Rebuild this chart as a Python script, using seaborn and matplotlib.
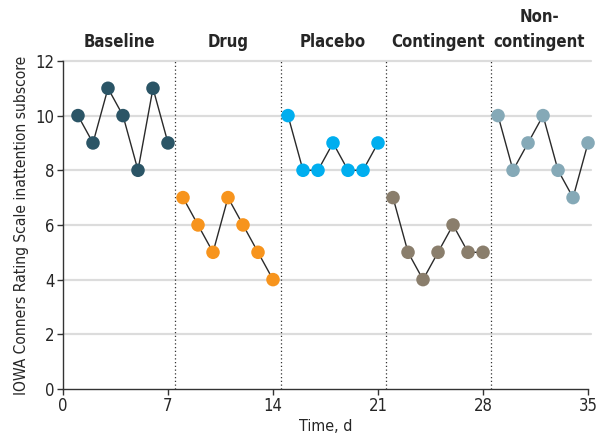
import matplotlib
matplotlib.use("Agg")
import matplotlib.pyplot as plt
import seaborn as sns
import pandas as pd

phases = ["Baseline", "Drug", "Placebo", "Contingent", "Non-contingent"]
phase_labels = ["Baseline", "Drug", "Placebo", "Contingent", "Non-\ncontingent"]
days = list(range(1, 36))
baseline = [10, 9, 11, 10, 8, 11, 9]
drug = [7, 6, 5, 7, 6, 5, 4]
placebo = [10, 8, 8, 9, 8, 8, 9]
contingent = [7, 5, 4, 5, 6, 5, 5]
noncontingent = [10, 8, 9, 10, 8, 7, 9]
colors = ["#2b5566", "#f7941d", "#00aeef", "#8a7e6c", "#85a9b7"]
xticks = [0, 7, 14, 21, 28, 35]
yticks = [0, 2, 4, 6, 8, 10, 12]
dividers = [7.5, 14.5, 21.5, 28.5]

series = [baseline, drug, placebo, contingent, noncontingent]
rows = []
i = 0
for p, vals in zip(phases, series):
    for v in vals:
        rows.append({"day": days[i], "score": v, "phase": p})
        i += 1
df = pd.DataFrame(rows)

sns.set_theme(style="white")
plt.rcParams["font.family"] = ["DejaVu Sans"]
plt.rcParams["font.stretch"] = "condensed"

fig = plt.figure(figsize=(5.97, 4.40), dpi=100)
ax = fig.add_axes([0.1055, 0.116, 0.8795, 0.7455])

for y in yticks[1:]:
    ax.axhline(y, color="#dcdcdc", lw=1.6, zorder=0, xmax=1.005, clip_on=False)
for d in dividers:
    ax.axvline(d, color="#333333", lw=0.9, ls=(0, (1, 2)), zorder=1)

for p in phases:
    sub = df[df.phase == p]
    sns.lineplot(data=sub, x="day", y="score", color="#2a2a2a", lw=1.0, ax=ax, zorder=2)
sns.scatterplot(data=df, x="day", y="score", hue="phase", palette=colors,
                s=95, edgecolor="none", linewidth=0, legend=False, ax=ax, zorder=3,
                clip_on=False)

ax.set_xlim(0, 35)
ax.set_ylim(0, 12)
ax.set_xticks(xticks)
ax.set_yticks(yticks)
ax.tick_params(axis="both", labelsize=12, length=4, width=1, color="#333333",
               direction="out", bottom=True, left=True, pad=2)
for s in ["top", "right"]:
    ax.spines[s].set_visible(False)
for s in ["left", "bottom"]:
    ax.spines[s].set_color("#333333")
    ax.spines[s].set_linewidth(1)
ax.set_xlabel("Time, d", fontsize=11.5, labelpad=3)
ax.set_ylabel("IOWA Conners Rating Scale inattention subscore", fontsize=11.2, labelpad=5)

bounds = [0] + dividers + [35]
for k, lab in enumerate(phase_labels):
    cx = (bounds[k] + bounds[k + 1]) / 2
    ax.text(cx, 1.03, lab, transform=ax.get_xaxis_transform(), ha="center", va="bottom",
            fontsize=12, fontweight="bold", linespacing=1.5)

fig.savefig("out.png", dpi=100)
